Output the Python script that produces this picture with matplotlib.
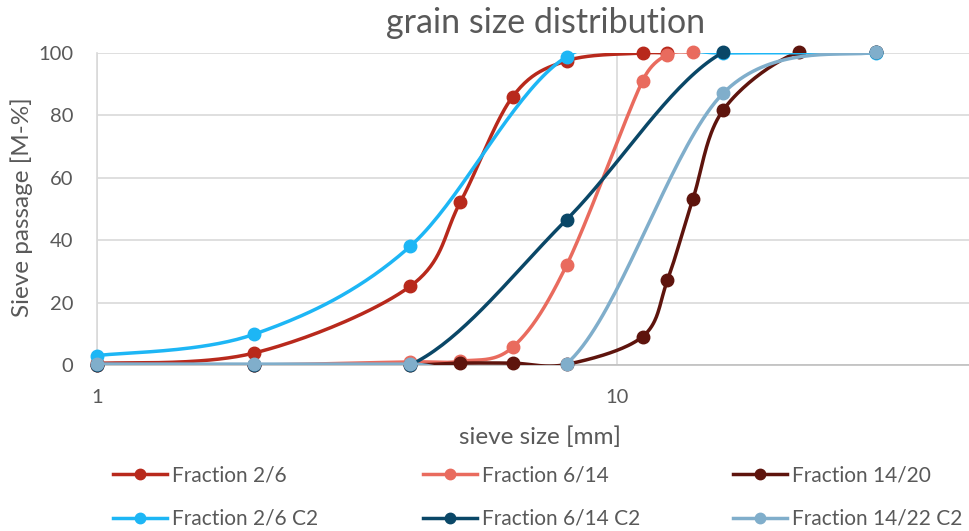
import numpy as np
import matplotlib
matplotlib.use("Agg")
import matplotlib.pyplot as plt
from matplotlib.lines import Line2D

plt.rcParams['font.family'] = ['Lato', 'DejaVu Sans']

# sieve sizes [mm] and passage [M-%] per fraction
sieve_a = [1, 2, 4, 5, 6.3, 8, 11.2, 12.5]
frac_2_6 = [0.5, 3.8, 25.2, 52.3, 86.0, 97.5, 100.0, 100.0]

sieve_b = [1, 2, 4, 5, 6.3, 8, 11.2, 12.5, 14]
frac_6_14 = [0.0, 0.0, 1.0, 1.2, 5.7, 32.0, 91.1, 99.5, 100.2]

sieve_c = [1, 2, 4, 5, 6.3, 8, 11.2, 12.5, 14, 16, 22.4, 31.5]
frac_14_20 = [0.0, 0.0, 0.0, 0.6, 0.6, 0.2, 9.1, 27.1, 53.3, 81.7, 100.4, 100.4]

sieve_c2 = [1, 2, 4, 8, 16, 31.5]
frac_2_6_c2 = [3.0, 9.8, 38.0, 98.8, 100.0, 100.0]
frac_6_14_c2 = [0.0, 0.0, 0.0, 46.6, 100.2, 100.2]
frac_14_22_c2 = [0.3, 0.3, 0.3, 0.4, 87.1, 100.4]

labels = ["Fraction 2/6", "Fraction 6/14", "Fraction 14/20",
          "Fraction 2/6 C2", "Fraction 6/14 C2", "Fraction 14/22 C2"]
colors = ["#B8291C", "#E96B5E", "#5E140D", "#1DB6F5", "#0A4767", "#80AECB"]

# pixel scale of the plot (px per decade, px per %), used for the smoothing
SX, SY = 520.0, 3.115


def smooth(x, y, n=40):
    # Excel style smoothed line: bezier, control points 1/6 of the neighbour
    # chord, capped at half the segment length (worked out in pixel space)
    px = np.log10(np.asarray(x, float)) * SX
    py = np.asarray(y, float) * SY
    P = np.column_stack([px, py])
    P = np.vstack([P[:1], P, P[-1:]])
    t = np.linspace(0, 1, n)[:, None]
    out = []
    for i in range(1, len(P) - 2):
        p0, p1, p2, p3 = P[i - 1], P[i], P[i + 1], P[i + 2]
        d02 = np.hypot(*(p2 - p0))
        d12 = np.hypot(*(p2 - p1))
        d13 = np.hypot(*(p3 - p1))
        f1 = 1 / 6 if d02 / 6 < d12 / 2 else d12 / 2 / d02
        f2 = 1 / 6 if d13 / 6 < d12 / 2 else d12 / 2 / d13
        c1 = p1 + f1 * (p2 - p0)
        c2 = p2 - f2 * (p3 - p1)
        b = (1 - t) ** 3 * p1 + 3 * (1 - t) ** 2 * t * c1 + 3 * (1 - t) * t ** 2 * c2 + t ** 3 * p2
        out.append(b)
    b = np.vstack(out)
    return 10 ** (b[:, 0] / SX), b[:, 1] / SY


series = [(sieve_a, frac_2_6), (sieve_b, frac_6_14), (sieve_c, frac_14_20),
          (sieve_c2, frac_2_6_c2), (sieve_c2, frac_6_14_c2), (sieve_c2, frac_14_22_c2)]

fig = plt.figure(figsize=(9.7, 5.31), dpi=100)
ax = fig.add_axes([97 / 970, 1 - 365 / 531, 1 - 97 / 970, (365 - 53) / 531])

grey = "#595959"
for k, ((sx, sy), c) in enumerate(zip(series, colors)):
    xs, ys = smooth(sx, sy)
    ax.plot(xs, ys, color=c, lw=2.5, zorder=3 + k, clip_on=True, solid_capstyle='round')
    ax.plot(sx, sy, 'o', color=c, ms=9, zorder=3 + k, clip_on=False)

ax.set_xscale('log')
ax.set_xlim(1, 10 ** ((970 - 97) / SX))
ax.set_ylim(0, 100)
ax.set_xticks([1, 10])
ax.set_xticklabels(["1", "10"])
ax.xaxis.set_minor_locator(matplotlib.ticker.NullLocator())
ax.set_yticks(np.arange(0, 101, 20))
ax.tick_params(axis='both', length=0, labelsize=14.5, labelcolor=grey)
ax.tick_params(axis='x', pad=17)
ax.tick_params(axis='y', pad=17)

ax.grid(True, which='major', color="#D9D9D9", lw=1.2)
ax.set_axisbelow(True)
for s in ['top', 'right']:
    ax.spines[s].set_visible(False)
ax.spines['bottom'].set_color("#BFBFBF")
ax.spines['left'].set_color("#D9D9D9")
ax.spines['bottom'].set_linewidth(1.2)
ax.spines['left'].set_linewidth(1.2)

ax.set_xlabel("sieve size [mm]", fontsize=17.5, color=grey, va='center')
ax.xaxis.set_label_coords((540 - 97) / 873, (365 - 437) / 312)
ax.set_ylabel("Sieve passage [M-%]", fontsize=17.5, color=grey, va='center')
ax.yaxis.set_label_coords((22 - 97) / 873, (365 - 207) / 312)
fig.text(546 / 970, 1 - 33 / 531, "grain size distribution",
         ha='center', va='baseline', fontsize=24.5, color=grey)

handles = [Line2D([], [], color=c, lw=2.5, marker='o', ms=7.5) for c in colors]
col_x = [113, 423, 733]
for j in range(3):
    leg = fig.legend([handles[j], handles[j + 3]], [labels[j], labels[j + 3]],
                     loc='upper left', bbox_to_anchor=(col_x[j] / 970, 1 - 465 / 531),
                     frameon=False, fontsize=15.0, handlelength=2.59, handletextpad=0.24,
                     labelspacing=1.15, borderaxespad=0, borderpad=0)
    for t in leg.get_texts():
        t.set_color(grey)

fig.savefig("out.png", dpi=100)
